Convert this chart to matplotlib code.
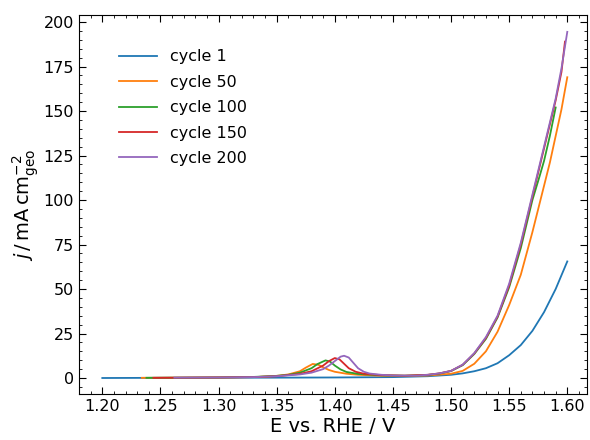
#!/usr/bin/env python3

import matplotlib
matplotlib.use("Agg")
import matplotlib.pyplot as plt
from matplotlib.ticker import MultipleLocator

# Potential (V vs. RHE) and current density (mA cm^-2)
e_c1 = [1.20, 1.25, 1.30, 1.35, 1.40, 1.45, 1.48, 1.50, 1.51, 1.52, 1.53,
        1.54, 1.55, 1.56, 1.57, 1.58, 1.59, 1.60]
j_c1 = [0.0, 0.1, 0.15, 0.2, 0.3, 0.5, 1.0, 1.8, 2.6, 3.8, 5.5,
        8.3, 12.8, 18.5, 26.5, 37.0, 50.0, 65.5]

e_c50 = [1.234, 1.27, 1.30, 1.33, 1.34, 1.35, 1.36, 1.37, 1.375, 1.381, 1.386,
         1.39, 1.395, 1.40, 1.41, 1.42, 1.44, 1.46, 1.48, 1.50, 1.51, 1.52,
         1.53, 1.54, 1.55, 1.56, 1.57, 1.58, 1.585, 1.59, 1.595, 1.60]
j_c50 = [0.1, 0.2, 0.3, 0.5, 0.8, 1.2, 2.0, 3.8, 5.8, 7.9, 7.4,
         6.0, 4.5, 3.5, 2.4, 1.8, 1.3, 1.2, 1.4, 2.4, 4.0, 8.0,
         15.0, 26.0, 41.0, 58.0, 82.0, 108.0, 121.0, 136.0, 151.0, 169.0]

e_c100 = [1.238, 1.27, 1.30, 1.33, 1.35, 1.36, 1.37, 1.38, 1.385, 1.392, 1.396,
          1.40, 1.405, 1.41, 1.42, 1.44, 1.46, 1.48, 1.49, 1.50, 1.51, 1.52,
          1.53, 1.54, 1.55, 1.56, 1.57, 1.576, 1.58, 1.585, 1.59]
j_c100 = [0.1, 0.2, 0.3, 0.6, 1.2, 1.8, 3.0, 5.5, 7.8, 9.9, 9.2,
          7.0, 4.8, 3.4, 2.3, 1.5, 1.3, 1.7, 2.5, 3.9, 7.2, 13.5,
          22.0, 34.0, 51.0, 73.0, 100.0, 113.0, 122.0, 136.0, 152.0]

e_c150 = [1.244, 1.27, 1.30, 1.33, 1.35, 1.37, 1.38, 1.39, 1.395, 1.400, 1.404,
          1.408, 1.412, 1.418, 1.425, 1.44, 1.46, 1.48, 1.49, 1.50, 1.51, 1.52,
          1.53, 1.54, 1.55, 1.56, 1.57, 1.58, 1.59, 1.595, 1.598]
j_c150 = [0.1, 0.2, 0.3, 0.5, 1.0, 2.3, 3.8, 7.0, 9.5, 11.2, 10.5,
          8.0, 5.5, 3.5, 2.4, 1.6, 1.3, 1.8, 2.6, 4.0, 7.4, 13.8,
          22.5, 34.5, 52.0, 75.0, 102.0, 129.0, 156.0, 172.0, 189.0]

e_c200 = [1.262, 1.30, 1.33, 1.35, 1.37, 1.38, 1.39, 1.395, 1.40, 1.405, 1.408,
          1.412, 1.416, 1.42, 1.425, 1.43, 1.44, 1.45, 1.47, 1.48, 1.49, 1.50,
          1.51, 1.52, 1.53, 1.54, 1.55, 1.56, 1.57, 1.58, 1.59, 1.595, 1.60]
j_c200 = [0.2, 0.3, 0.5, 1.0, 2.0, 3.0, 5.0, 7.0, 9.5, 12.0, 12.5,
          11.5, 8.5, 5.5, 3.5, 2.5, 1.8, 1.4, 1.3, 1.8, 2.6, 4.0,
          7.5, 14.0, 23.0, 35.0, 53.0, 76.0, 103.0, 130.0, 157.0, 174.0, 194.5]

cycles = [
    ("cycle 1", e_c1, j_c1),
    ("cycle 50", e_c50, j_c50),
    ("cycle 100", e_c100, j_c100),
    ("cycle 150", e_c150, j_c150),
    ("cycle 200", e_c200, j_c200),
]

fig = plt.figure(figsize=(5.9, 4.4), dpi=100)
ax = fig.add_axes([0.134, 0.1045, 0.861, 0.8615])

for label, e, j in cycles:
    ax.plot(e, j, lw=1.3, label=label)

ax.set_xlim(1.18, 1.617)
ax.set_ylim(-9, 204)
ax.xaxis.set_major_locator(MultipleLocator(0.05))
ax.xaxis.set_minor_locator(MultipleLocator(0.01))
ax.yaxis.set_major_locator(MultipleLocator(25))
ax.yaxis.set_minor_locator(MultipleLocator(5))
ax.xaxis.set_major_formatter(plt.FuncFormatter("{:.2f}".format))
ax.tick_params(which="both", direction="in", top=True, right=True, labelsize=11.5)
ax.tick_params(which="major", length=5)
ax.tick_params(which="minor", length=2.5)

ax.set_xlabel("E vs. RHE / V", fontsize=14, labelpad=2)
ax.set_ylabel(r"$j\,/\,\mathrm{mA\,cm_{geo}^{-2}}$", fontsize=14, labelpad=2)

ax.legend(loc="upper left", bbox_to_anchor=(0.079, 0.909), frameon=False,
          fontsize=11.5, handlelength=2.35, handletextpad=0.85,
          labelspacing=0.65, borderpad=0, borderaxespad=0)

fig.savefig("out.png", dpi=100)
